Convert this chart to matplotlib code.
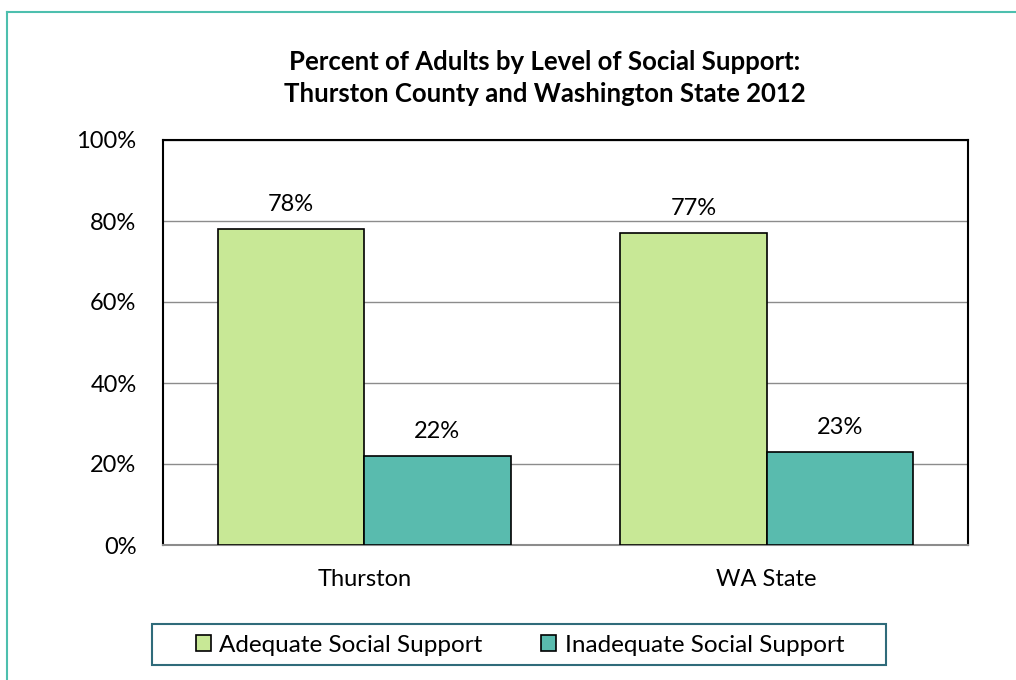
import matplotlib.pyplot as plt
from matplotlib.lines import Line2D
from matplotlib.patches import Rectangle
from matplotlib.ticker import FuncFormatter

# Data
categories = ["Thurston", "WA State"]
adequate = [78, 77]
inadequate = [22, 23]
series_names = ["Adequate Social Support", "Inadequate Social Support"]

plt.rcParams['font.family'] = ['Lato', 'DejaVu Sans']

W, H = 1016, 680
fig = plt.figure(figsize=(W / 100, H / 100), dpi=100)
ax = fig.add_axes([163 / W, 1 - 545 / H, 805 / W, 405 / H])

width = 0.3635
x = range(len(categories))
green = "#C8E896"
teal = "#59BBAE"

b1 = ax.bar([i - width / 2 for i in x], adequate, width, color=green,
            edgecolor="black", linewidth=1.2, zorder=3, label=series_names[0])
b2 = ax.bar([i + width / 2 for i in x], inadequate, width, color=teal,
            edgecolor="black", linewidth=1.2, zorder=3, label=series_names[1])

for bars in (b1, b2):
    for rect in bars:
        ax.annotate(f"{rect.get_height():.0f}%",
                    (rect.get_x() + rect.get_width() / 2, rect.get_height()),
                    xytext=(0, 10), textcoords="offset points",
                    ha="center", va="bottom", fontsize=17)

ax.set_xlim(-0.5, 1.5)
ax.set_ylim(0, 100)
ax.set_yticks(range(0, 101, 20))
ax.yaxis.set_major_formatter(FuncFormatter(lambda v, p: f"{v:.0f}%"))
ax.set_xticks(list(x))
ax.set_xticklabels(categories)
ax.tick_params(axis="both", labelsize=17, length=0)
ax.tick_params(axis="y", pad=19)
ax.tick_params(axis="x", pad=17)
ax.grid(axis="y", color="#8c8c8c", linewidth=1, zorder=0)
for s in ("left", "top", "right"):
    ax.spines[s].set_color("black")
    ax.spines[s].set_linewidth(1.5)
ax.spines["bottom"].set_color("#8c8c8c")
ax.spines["bottom"].set_linewidth(1.5)

fig.text(545 / W, 1 - 78 / H,
         "Percent of Adults by Level of Social Support:\nThurston County and Washington State 2012",
         ha="center", va="center", fontsize=18.5, fontweight="bold", linespacing=1.45)

# legend without frame, plus a separate box drawn around it
leg = fig.legend(handles=[b1, b2], loc="center", bbox_to_anchor=(520 / W, 1 - 645 / H),
                 ncol=2, fontsize=17.5, frameon=False,
                 handlelength=0.62, handleheight=0.62, handletextpad=0.35,
                 columnspacing=2.4)
fig.add_artist(Rectangle((152 / W, 1 - 665 / H), 734 / W, 41 / H, transform=fig.transFigure,
                         fill=False, edgecolor="#2F6B7A", linewidth=1.5))

# outer teal border (left and top only)
border = "#4DBFAE"
fig.add_artist(Line2D([7 / W, 7 / W], [0, 1 - 12 / H], color=border, linewidth=1.5))
fig.add_artist(Line2D([7 / W, 1], [1 - 12 / H, 1 - 12 / H], color=border, linewidth=1.5))

fig.savefig("out.png", dpi=100)
